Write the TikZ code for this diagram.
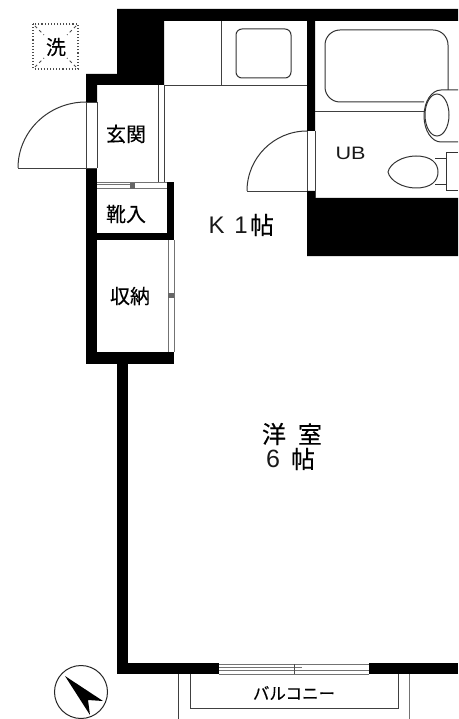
\documentclass[tikz,border=0pt]{standalone}
\usepackage{fontspec}
\setmainfont{Liberation Sans}
\newfontfamily\jp[FakeBold=0.25]{Noto Sans CJK JP}
\tikzset{
  wallfill/.style={fill=black,draw=none},
  thin line/.style={draw=black!75,line width=0.9pt},
  gray line/.style={draw=black!55,line width=1pt},
  fixture/.style={draw=black!80,line width=1pt},
  lab/.style={font=\jp\fontsize{#1}{#1}\selectfont,text=black,inner sep=0pt},
  latin/.style={font=\fontsize{#1}{#1}\selectfont,text=black!90,inner sep=0pt}
}
\begin{document}
\begin{tikzpicture}[x=1pt,y=-1pt]
\useasboundingbox (0,0) rectangle (458,719);
% --- walls
\fill[wallfill] (117,9) -- (458,9) -- (458,21) -- (315,21) -- (315,131) -- (307,131) -- (307,21) -- (164,21) -- (164,85) -- (97,85) -- (97,102) -- (86,102) -- (86,74) -- (117,74) -- cycle;
\fill[wallfill] (86,168) rectangle (97,364);
\fill[wallfill] (86,352) rectangle (174,364);
\fill[wallfill] (97,233) rectangle (174,240);
\fill[wallfill] (167,182) rectangle (174,240);
\fill[wallfill] (117,362) rectangle (128,674);
\fill[wallfill] (117,663) rectangle (219,674);
\fill[wallfill] (369,663) rectangle (458,674);
\fill[wallfill] (307,191) -- (315,191) -- (315,198) -- (458,198) -- (458,256) -- (307,256) -- cycle;
% --- kitchen lines
\draw[thin line] (164,85) -- (307,85);
\draw[thin line] (221,21) -- (221,85);
\draw[fixture,rounded corners=6pt] (236,29) rectangle (291,78);
\draw[thin line] (158,85) -- (158,182);
\draw[thin line] (164,85) -- (164,182);
% --- entrance door
\draw[thin line] (86,102) -- (97,102);
\draw[thin line] (86,102) -- (86,168);
\draw[thin line] (97,102) -- (97,168);
\draw[fixture] (86,102) arc[start angle=270,end angle=180,x radius=68,y radius=66];
\draw[thin line] (18,168) -- (97,168);
% --- shoe closet door
\draw[gray line] (97,183) -- (167,183);
\draw[gray line] (97,189) -- (167,189);
\draw[gray line] (97,185) -- (132,185);
\fill[black!60] (130,183) rectangle (135,189);
% --- storage door
\draw[gray line] (168,240) -- (168,352);
\draw[gray line] (174,240) -- (174,352);
\fill[black!60] (168,293) rectangle (174,298);
% --- bathroom
\draw[thin line] (307,131) -- (307,191);
\draw[thin line] (315,131) -- (315,198);
\draw[fixture] (307,131) arc[start angle=270,end angle=180,radius=60];
\draw[thin line] (247,191) -- (307,191);
\draw[fixture,rounded corners=15pt] (448,90) -- (448,30) -- (325,30) -- (325,102) -- (424,102);
\draw[thin line] (315,111) -- (424,111);
\draw[fixture] (458,90) -- (441,90) arc[start angle=270,end angle=90,x radius=17,y radius=26] -- (458,142);
\draw[fixture] (437,115) ellipse[x radius=12,y radius=21];
% --- toilet
\draw[fixture] (458,153) -- (446,153) -- (446,191) -- (458,191);
\draw[fixture] (435,159) -- (446,159);
\draw[fixture] (435,185) -- (446,185);
\draw[fixture] (388,172) .. controls (390,163) and (403,156) .. (416,156) .. controls (431,156) and (438,163) .. (438,172) .. controls (438,181) and (431,188) .. (416,188) .. controls (403,188) and (390,181) .. (388,172) -- cycle;
% --- window
\fill[white] (219,663) rectangle (369,674);
\draw[gray line] (219,664) -- (369,664);
\draw[gray line] (219,670) -- (369,670);
\draw[gray line] (219,674) -- (369,674);
\draw[gray line] (219,667) -- (302,667);
\draw[black!70,line width=0.8pt] (294,664) -- (294,674);
% --- balcony
\draw[thin line] (178,674) -- (178,719);
\draw[gray line] (409,674) -- (409,719);
\draw[thin line] (190,674) -- (190,708) -- (398,708) -- (398,674);
% --- washer
\draw[black!70,line width=1.1pt,dotted] (33,24) rectangle (78,69);
\draw[black!70,line width=0.9pt,dashed] (35,26) -- (44,35);
\draw[black!70,line width=0.9pt,dashed] (76,26) -- (67,35);
\draw[black!70,line width=0.9pt,dashed] (35,67) -- (44,58);
\draw[black!70,line width=0.9pt,dashed] (76,67) -- (67,58);
% --- compass
\draw[black!85,line width=1pt] (81,692) circle[radius=26.5];
\fill[black] (65,676) -- (103,701) -- (88,700) -- (90,715) -- cycle;
% --- labels
\node[lab=20] (wash) at (56,47) {洗};
\node[lab=20] (genkan) at (126,134) {玄関};
\node[lab=20] (kutsu) at (126,214) {靴入};
\node[lab=20] (shuno) at (130,296) {収納};
\node[latin=24] (k) at (216.5,225) {K};
\node[latin=24] (one) at (241,225) {1};
\node[lab=24] (jo) at (262,225) {帖};
\node[latin=18,xscale=1.2] (ub) at (350.5,153) {UB};
\node[lab=24] (yo) at (274,434) {洋};
\node[lab=24] (shitsu) at (310,434) {室};
\node[latin=25] (six) at (273,459) {6};
\node[lab=24] (jo2) at (303,459) {帖};
\node[lab=16.5] (bal) at (294,693) {バルコニー};
\end{tikzpicture}
\end{document}
